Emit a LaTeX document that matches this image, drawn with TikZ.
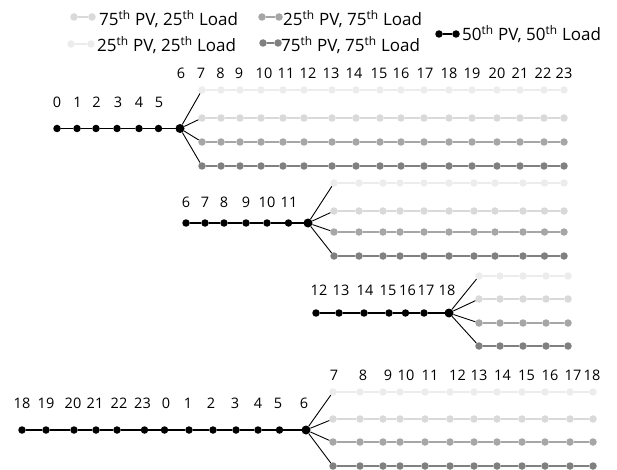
\documentclass[tikz,border=0pt]{standalone}
\usepackage{fontspec}
\setmainfont{Open Sans}

\definecolor{pvlow}{HTML}{ECECEC}
\definecolor{pvmid}{HTML}{D9D9D9}
\definecolor{pvhigh}{HTML}{A6A6A6}
\definecolor{pvtop}{HTML}{808080}

\tikzset{
	blackdot/.style={circle, fill=black, inner sep=0pt, minimum size=7.5pt},
	hubdot/.style={circle, fill=black, inner sep=0pt, minimum size=9pt},
	greydot/.style={circle, fill=#1, inner sep=0pt, minimum size=7.5pt},
	hourlabel/.style={font=\fontsize{14.5}{16}\selectfont, inner sep=0pt},
	legendtext/.style={font=\fontsize{17}{20}\selectfont, anchor=west, inner sep=0pt},
	rowline/.style={line width=1.4pt, draw=#1},
	trunkline/.style={line width=1.8pt, draw=black},
	spoke/.style={line width=0.9pt, draw=black},
}

% one scenario row: name, colour, y, x values, hub
\newcommand{\hourrow}[5]{
	\foreach \x [count=\i, remember=\i as \j (initially 0)] in {#4} {
		\node [greydot=#2] (#1-\i) at (\x,#3) {};
		\ifnum\i>1 \draw [rowline=#2] (#1-\j) -- (#1-\i); \fi
	}
	\draw [spoke] (#5) -- (#1-1);
}

% black trunk: name, y, x values (last one is the hub)
\newcommand{\trunkrow}[3]{
	\foreach \x [count=\i, remember=\i as \j (initially 0)] in {#3} {
		\node [blackdot] (#1-\i) at (\x,#2) {};
		\ifnum\i>1 \draw [trunkline] (#1-\j) -- (#1-\i); \fi
	}
}

\begin{document}
\begin{tikzpicture}[x=1pt, y=-1pt]
	
	\useasboundingbox (0,0) rectangle (617,470);
	
	% legend
	\node [legendtext] (lgA) at (99,19) {75\textsuperscript{th} PV, 25\textsuperscript{th} Load};
	\node [legendtext] (lgB) at (283,19) {25\textsuperscript{th} PV, 75\textsuperscript{th} Load};
	\node [legendtext] (lgC) at (97,45) {25\textsuperscript{th} PV, 25\textsuperscript{th} Load};
	\node [legendtext] (lgD) at (281,45) {75\textsuperscript{th} PV, 75\textsuperscript{th} Load};
	\node [legendtext] (lgE) at (462,34) {50\textsuperscript{th} PV, 50\textsuperscript{th} Load};
	
	\node [greydot=pvmid] (mkA1) at (74,17) {};
	\node [greydot=pvmid] (mkA2) at (92,17) {};
	\draw [rowline=pvmid] (mkA1) -- (mkA2);
	\node [greydot=pvhigh] (mkB1) at (262,17) {};
	\node [greydot=pvhigh] (mkB2) at (279,17) {};
	\draw [rowline=pvhigh] (mkB1) -- (mkB2);
	\node [greydot=pvlow] (mkC1) at (71,44) {};
	\node [greydot=pvlow] (mkC2) at (91,44) {};
	\draw [rowline=pvlow] (mkC1) -- (mkC2);
	\node [greydot=pvtop] (mkD1) at (263,43) {};
	\node [greydot=pvtop] (mkD2) at (278,43) {};
	\draw [rowline=pvtop] (mkD1) -- (mkD2);
	\node [blackdot] (mkE1) at (439,34) {};
	\node [blackdot] (mkE2) at (456,34) {};
	\draw [trunkline] (mkE1) -- (mkE2);
	
	% hours 0 to 6
	\foreach \x/\t [count=\i] in {57/0, 77.5/1, 96.5/2, 118/3, 139/4, 159/5}
		\node [hourlabel] (la-\i) at (\x,102) {\t};
	\foreach \x/\t [count=\i] in {181/6, 201/7, 220.5/8, 239/9, 264/10, 286/11, 308/12, 331/13, 354/14, 379/15, 401/16, 425/17, 449/18, 472/19, 497/20, 520/21, 543/22, 564/23}
		\node [hourlabel] (ta-\i) at (\x,73) {\t};
	\trunkrow{a}{128.5}{57, 77, 96, 117, 139, 158.5, 180}
	\node [hubdot] (hubA) at (a-7) {};
	\hourrow{aA}{pvlow}{90}{202, 221, 240, 261, 283, 304, 332, 356, 380, 401, 424, 449, 472, 497, 520, 544, 564}{hubA}
	\hourrow{aB}{pvmid}{118}{202, 221, 240, 261, 283, 304, 332, 356, 380, 401, 424, 449, 472, 497, 520, 544, 564}{hubA}
	\hourrow{aC}{pvhigh}{142}{202, 221, 240, 261, 283, 304, 332, 356, 380, 401, 424, 449, 472, 497, 520, 544, 564}{hubA}
	\hourrow{aD}{pvtop}{166}{202, 221, 240, 261, 283, 304, 332, 356, 380, 401, 424, 449, 472, 497, 520, 544, 564}{hubA}
	
	% hours 6 to 12
	\foreach \x/\t [count=\i] in {186/6, 205/7, 224/8, 246/9, 267/10, 289/11}
		\node [hourlabel] (lb-\i) at (\x,202) {\t};
	\trunkrow{b}{223}{186, 205, 224, 246, 267, 288.5, 308}
	\node [hubdot] (hubB) at (b-7) {};
	\hourrow{bA}{pvlow}{183}{334, 359, 383, 400, 424, 449, 474, 495, 523, 544.5, 564}{hubB}
	\hourrow{bB}{pvmid}{211}{334, 359, 383, 400, 424, 449, 474, 495, 523, 544.5, 564}{hubB}
	\hourrow{bC}{pvhigh}{232}{334, 359, 383, 400, 424, 449, 474, 495, 523, 544.5, 564}{hubB}
	\hourrow{bD}{pvtop}{256}{334, 359, 383, 400, 424, 449, 474, 495, 523, 544.5, 564}{hubB}
	
	% hours 12 to 18
	\foreach \x/\t [count=\i] in {319/12, 341/13, 365/14, 388/15, 407.5/16, 426/17, 447/18}
		\node [hourlabel] (lc-\i) at (\x,290) {\t};
	\trunkrow{c}{313}{316, 339, 364, 389, 405.5, 424, 449}
	\node [hubdot] (hubC) at (c-7) {};
	\hourrow{cA}{pvlow}{276}{479, 500, 523, 546, 568}{hubC}
	\hourrow{cB}{pvmid}{299}{479, 500, 523, 546, 568}{hubC}
	\hourrow{cC}{pvhigh}{323}{479, 500, 523, 546, 568}{hubC}
	\hourrow{cD}{pvtop}{346}{479, 500, 523, 546, 568}{hubC}
	
	% hours 18 to 6
	\foreach \x/\t [count=\i] in {22/18, 46/19, 73/20, 95/21, 119/22, 142.5/23, 166/0, 188/1, 211/2, 235/3, 258/4, 278/5, 304/6}
		\node [hourlabel] (ld-\i) at (\x,403) {\t};
	\foreach \x/\t [count=\i] in {334/7, 363/8, 388/9, 406/10, 430/11, 457.5/12, 479/13, 502.5/14, 526.5/15, 550/16, 573/17, 592/18}
		\node [hourlabel] (td-\i) at (\x,375) {\t};
	\trunkrow{d}{430}{22, 46, 74, 96, 117, 144.5, 164.5, 189, 213, 236, 258, 279.5, 306}
	\node [hubdot] (hubD) at (d-13) {};
	\hourrow{dA}{pvlow}{392}{333, 360, 383, 400, 425, 450, 474, 497, 522, 545, 570, 593}{hubD}
	\hourrow{dB}{pvmid}{419}{333, 360, 383, 400, 425, 450, 474, 497, 522, 545, 570, 593}{hubD}
	\hourrow{dC}{pvhigh}{442}{333, 360, 383, 400, 425, 450, 474, 497, 522, 545, 570, 593}{hubD}
	\hourrow{dD}{pvtop}{466}{333, 360, 383, 400, 425, 450, 474, 497, 522, 545, 570, 593}{hubD}
	
\end{tikzpicture}
\end{document}
